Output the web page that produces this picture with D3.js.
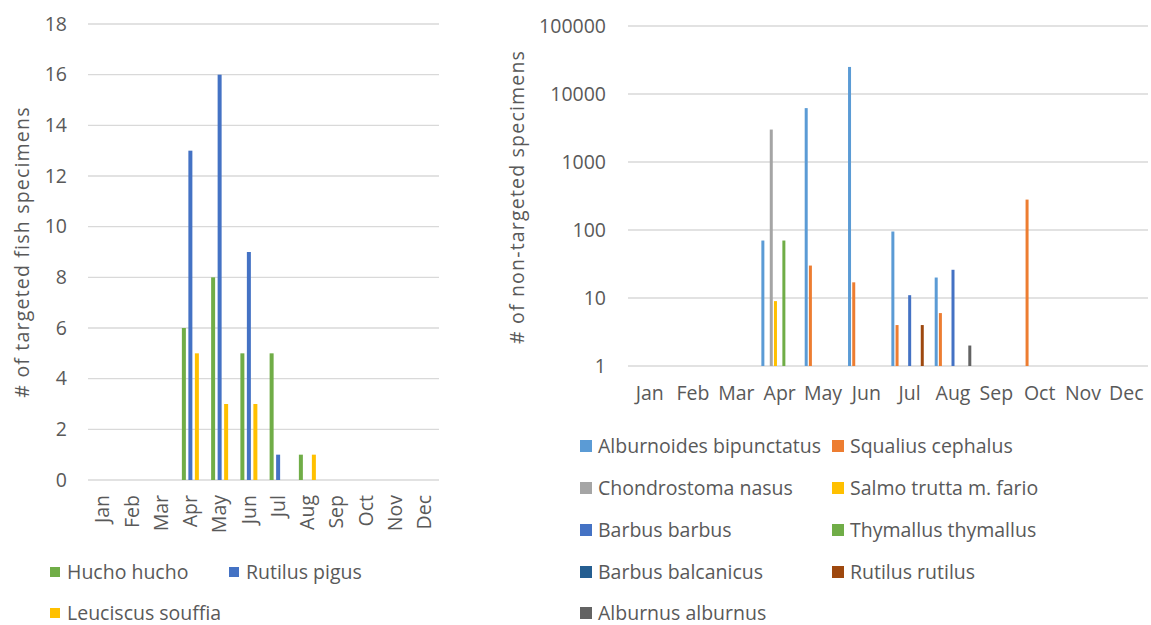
<!DOCTYPE html>
<html lang="en">
<head>
<meta charset="UTF-8">
<title>Fish specimens by month</title>
<script src="https://d3js.org/d3.v7.min.js"></script>
<style>
  body { margin: 0; background: #fff; }
  text { font-family: "Open Sans", sans-serif; fill: #595959; font-size: 19.5px; }
  .axis-title { letter-spacing: 1.2px; }
  .grid line { stroke: #d9d9d9; stroke-width: 1.3; }
</style>
</head>
<body>
<div id="chart"></div>
<script>
// months shared by both panels
const months = ["Jan","Feb","Mar","Apr","May","Jun","Jul","Aug","Sep","Oct","Nov","Dec"];

// left panel: targeted species (null = no bar)
const targetedSeries = ["Hucho hucho", "Rutilus pigus", "Leuciscus souffia"];
const huchoHucho      = [null,null,null,6,8,5,5,1,null,null,null,null];
const rutilusPigus    = [null,null,null,13,16,9,1,null,null,null,null,null];
const leuciscusSouffia= [null,null,null,5,3,3,null,1,null,null,null,null];
const targetedColors  = ["#70ad47", "#4472c4", "#ffc000"];
const leftTicks = [0,2,4,6,8,10,12,14,16,18];

// right panel: non-targeted species
const otherSeries = ["Alburnoides bipunctatus","Squalius cephalus","Chondrostoma nasus",
  "Salmo trutta m. fario","Barbus barbus","Thymallus thymallus","Barbus balcanicus",
  "Rutilus rutilus","Alburnus alburnus"];
const alburnoides  = [null,null,null,70,6200,25000,95,20,null,null,null,null];
const squalius     = [null,null,null,null,30,17,4,6,null,280,null,null];
const chondrostoma = [null,null,null,3000,null,null,null,null,null,null,null,null];
const salmo        = [null,null,null,9,null,null,null,null,null,null,null,null];
const barbusBarbus = [null,null,null,null,null,null,11,26,null,null,null,null];
const thymallus    = [null,null,null,70,null,null,null,null,null,null,null,null];
const barbusBalc   = [null,null,null,null,null,null,null,null,null,null,null,null];
const rutilusRut   = [null,null,null,null,null,null,4,null,null,null,null,null];
const alburnus     = [null,null,null,null,null,null,null,2,null,null,null,null];
const otherColors = ["#5b9bd5","#ed7d31","#a5a5a5","#ffc000","#4472c4","#70ad47","#255e91","#9e480e","#636363"];
const rightTicks = [1,10,100,1000,10000,100000];

const svg = d3.select("#chart").append("svg")
  .attr("width", 1151).attr("height", 625);

function toRows(names, arrays) {
  const rows = [];
  names.forEach((name, i) => {
    arrays[i].forEach((v, m) => { if (v != null) rows.push({ series: name, si: i, month: months[m], value: v }); });
  });
  return rows;
}

// ---------- left chart ----------
const xL = d3.scaleBand().domain(months).range([88, 439]);
const subL = d3.scaleBand().domain(targetedSeries).range([-9.75, 9.75]);
const yL = d3.scaleLinear().domain([0, 18]).range([480, 24]);

svg.append("g").attr("class", "grid")
  .selectAll("line").data(leftTicks).join("line")
  .attr("x1", 88).attr("x2", 439)
  .attr("y1", d => yL(d)).attr("y2", d => yL(d));

svg.append("g").selectAll("text").data(leftTicks).join("text")
  .attr("x", 67).attr("y", d => yL(d)).attr("dy", "0.35em")
  .attr("text-anchor", "end").text(d => d);

svg.append("g").selectAll("text").data(months).join("text")
  .attr("transform", d => `translate(${xL(d) + xL.bandwidth() / 2},495) rotate(-90)`)
  .attr("dy", "0.35em").attr("text-anchor", "end").text(d => d);

const leftRows = toRows(targetedSeries, [huchoHucho, rutilusPigus, leuciscusSouffia]);
svg.append("g").selectAll("rect").data(leftRows).join("rect")
  .attr("x", d => xL(d.month) + xL.bandwidth() / 2 + subL(d.series) + subL.bandwidth() / 2 - 2)
  .attr("width", 4)
  .attr("y", d => yL(d.value))
  .attr("height", d => yL(0) - yL(d.value))
  .attr("fill", d => targetedColors[d.si]);

svg.append("text").attr("class", "axis-title")
  .attr("transform", "translate(22,252) rotate(-90)")
  .attr("dy", "0.35em").attr("text-anchor", "middle")
  .text("# of targeted fish specimens");

// left legend
const legL = [
  { name: targetedSeries[0], c: targetedColors[0], x: 50, y: 572 },
  { name: targetedSeries[1], c: targetedColors[1], x: 229, y: 572 },
  { name: targetedSeries[2], c: targetedColors[2], x: 50, y: 613 }
];
const gl = svg.append("g").selectAll("g").data(legL).join("g")
  .attr("transform", d => `translate(${d.x},${d.y})`);
gl.append("rect").attr("x", 0).attr("y", -5).attr("width", 10).attr("height", 10).attr("fill", d => d.c);
gl.append("text").attr("x", 17).attr("dy", "0.35em").text(d => d.name);

// ---------- right chart ----------
const xR = d3.scaleBand().domain(months).range([628, 1148]);
const subR = d3.scaleBand().domain(otherSeries).range([-18.9, 18.9]);
const yR = d3.scaleLog().domain([1, 100000]).range([366, 26]);

svg.append("g").attr("class", "grid")
  .selectAll("line").data(rightTicks).join("line")
  .attr("x1", 628).attr("x2", 1148)
  .attr("y1", d => yR(d)).attr("y2", d => yR(d));

svg.append("g").selectAll("text").data(rightTicks).join("text")
  .attr("x", 606).attr("y", d => yR(d)).attr("dy", "0.35em")
  .attr("text-anchor", "end").text(d => d);

svg.append("g").selectAll("text").data(months).join("text")
  .attr("x", d => xR(d) + xR.bandwidth() / 2).attr("y", 393).attr("dy", "0.35em")
  .attr("text-anchor", "middle").text(d => d);

const rightRows = toRows(otherSeries, [alburnoides, squalius, chondrostoma, salmo,
  barbusBarbus, thymallus, barbusBalc, rutilusRut, alburnus]);
svg.append("g").selectAll("rect").data(rightRows).join("rect")
  .attr("x", d => xR(d.month) + xR.bandwidth() / 2 + subR(d.series) + subR.bandwidth() / 2 - 1.5)
  .attr("width", 3)
  .attr("y", d => yR(d.value))
  .attr("height", d => yR(1) - yR(d.value))
  .attr("fill", d => otherColors[d.si]);

svg.append("text").attr("class", "axis-title")
  .attr("transform", "translate(517,197) rotate(-90)")
  .attr("dy", "0.35em").attr("text-anchor", "middle")
  .text("# of non-targeted specimens");

// right legend, two columns
const legR = otherSeries.map((name, i) => ({
  name, c: otherColors[i],
  x: i % 2 === 0 ? 580 : 832,
  y: [446, 488, 530, 572, 613][Math.floor(i / 2)]
}));
const gr = svg.append("g").selectAll("g").data(legR).join("g")
  .attr("transform", d => `translate(${d.x},${d.y})`);
gr.append("rect").attr("x", 0).attr("y", -6).attr("width", 12).attr("height", 12).attr("fill", d => d.c);
gr.append("text").attr("x", 18).attr("dy", "0.35em").text(d => d.name);
</script>
</body>
</html>
